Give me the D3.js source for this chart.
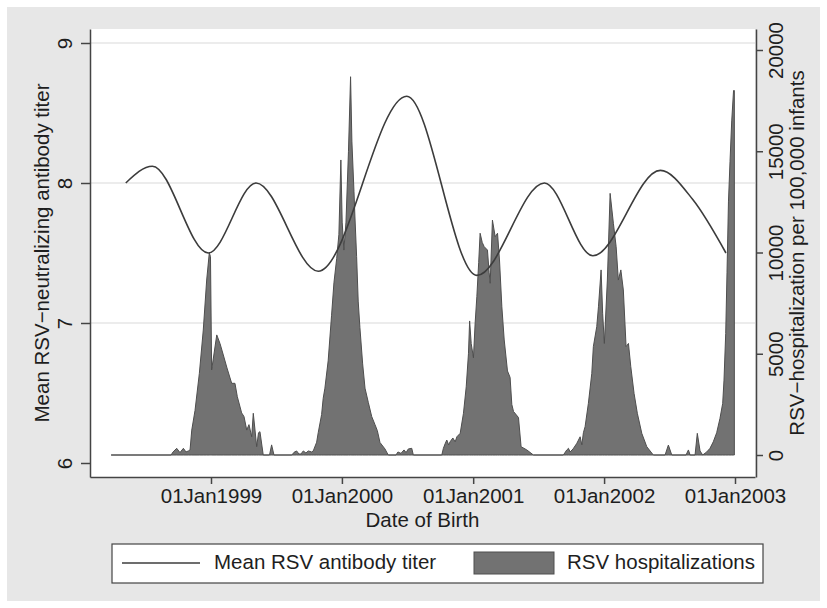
<!DOCTYPE html>
<html>
<head>
<meta charset="utf-8">
<script src="https://cdn.jsdelivr.net/npm/d3@7"></script>
<style>
  body { margin: 0; background: #ffffff; }
  svg text { font-family: "Liberation Sans", Arial, Helvetica, sans-serif; fill: #1e1e1e; }
</style>
</head>
<body>
<div class="chart"></div>
<script>
// Mean antibody titer (smooth curve), dates as decimal years
const titerYear  = [1998.349, 1998.552, 1998.979, 1999.344, 1999.819, 2000.494, 2001.028, 2001.544, 2001.914, 2002.430, 2002.679, 2002.931];
const titerValue = [8.00, 8.12, 7.50, 8.00, 7.37, 8.62, 7.34, 8.00, 7.48, 8.09, 7.88, 7.50];

// RSV hospitalizations per 100,000 infants, dates as decimal years
const hospYear = [
  1998.237, 1998.695, 1998.710, 1998.738, 1998.763, 1998.789, 1998.809, 1998.827, 1998.840, 1998.853,
  1998.878, 1998.911, 1998.941, 1998.967, 1998.987, 1998.996, 1999.005, 1999.044, 1999.069, 1999.094,
  1999.122, 1999.158, 1999.183, 1999.201, 1999.234, 1999.252, 1999.273, 1999.290, 1999.311, 1999.323,
  1999.349, 1999.363, 1999.374, 1999.399, 1999.447, 1999.463, 1999.481,
  1999.618, 1999.634, 1999.654, 1999.672, 1999.687, 1999.705, 1999.725, 1999.743, 1999.769, 1999.781,
  1999.807, 1999.819, 1999.845, 1999.857, 1999.870, 1999.895, 1999.921, 1999.939, 1999.960, 1999.977,
  1999.992, 2000.002, 2000.015, 2000.031, 2000.050, 2000.066, 2000.076, 2000.092, 2000.099, 2000.112,
  2000.124, 2000.137, 2000.158, 2000.176, 2000.201, 2000.227, 2000.252, 2000.270, 2000.290, 2000.328,
  2000.353,
  2000.412, 2000.427, 2000.450, 2000.473, 2000.489, 2000.506, 2000.532, 2000.544,
  2000.761, 2000.773, 2000.786, 2000.799, 2000.813, 2000.824, 2000.845, 2000.863, 2000.876, 2000.901,
  2000.926, 2000.947, 2000.964, 2000.973, 2000.985, 2001.002, 2001.015, 2001.028, 2001.042, 2001.053,
  2001.069, 2001.084, 2001.109, 2001.122, 2001.130, 2001.147, 2001.168, 2001.186, 2001.201, 2001.219,
  2001.237, 2001.262, 2001.282, 2001.295, 2001.308, 2001.346, 2001.366, 2001.410, 2001.460,
  2001.689, 2001.715, 2001.728, 2001.740, 2001.763, 2001.792, 2001.817, 2001.830, 2001.842, 2001.855,
  2001.880, 2001.906, 2001.918, 2001.944, 2001.957, 2001.977, 2001.989, 2002.002, 2002.025, 2002.046,
  2002.071, 2002.092, 2002.109, 2002.128, 2002.147, 2002.168, 2002.186, 2002.204, 2002.229, 2002.254,
  2002.288, 2002.326, 2002.376, 2002.466, 2002.491, 2002.517,
  2002.626, 2002.644, 2002.657, 2002.695, 2002.712, 2002.733, 2002.753, 2002.784, 2002.809, 2002.834,
  2002.860, 2002.885, 2002.906, 2002.916, 2002.929, 2002.939, 2002.950, 2002.962, 2002.975, 2002.989,
  2002.995
];
const hospRate = [
  0, 0, 150, 330, 120, 330, 150, 200, 250, 1230,
  2200, 4030, 6170, 8640, 9980, 9800, 4200, 5930, 5500, 4940,
  4300, 3540, 3540, 2880, 2080, 1900, 1230, 1500, 900, 2060,
  410, 1100, 1150, 0, 0, 500, 0,
  0, 130, 200, 50, 50, 200, 100, 200, 150, 200,
  630, 1100, 2000, 2800, 3300, 4650, 6900, 8500, 9700, 10900,
  14570, 11500, 10120, 11500, 15000, 18680, 15500, 13000, 11800, 9800,
  7600, 6300, 4500, 3300, 2600, 1900, 1500, 1200, 620, 300,
  0,
  0, 150, 80, 250, 120, 300, 330, 0,
  0, 330, 550, 740, 500, 650, 840, 650, 900, 1070,
  2060, 3370, 5000, 6620, 5500, 4800, 6520, 7820, 9500, 10950,
  10500, 10290, 10120, 9000, 8480, 11600, 10780, 10950, 9630, 7320,
  5680, 4150, 3830, 2500, 2150, 1850, 410, 250, 0,
  0, 250, 330, 150, 300, 580, 900, 500, 1100, 1400,
  2550, 4030, 5350, 6340, 7320, 9140, 7000, 5510, 8640, 12920,
  11440, 10290, 8640, 9140, 8150, 5350, 5510, 4360, 3040, 2060,
  1070, 410, 0, 0, 490, 0,
  0, 250, 0, 0, 1070, 200, 0, 150, 330, 650,
  1100, 1800, 2550, 3700, 6000, 9000, 12500, 14500, 16500, 18000,
  18000
];

const xTickYears  = [1999, 2000, 2001, 2002, 2003];
const yLeftTicks  = [6, 7, 8, 9];
const yRightTicks = [0, 5000, 10000, 15000, 20000];
const legendLabels = ["Mean RSV antibody titer", "RSV hospitalizations"];

function yearToDate(y) {
  const yr = Math.floor(y);
  const start = new Date(yr, 0, 1), end = new Date(yr + 1, 0, 1);
  return new Date(+start + (y - yr) * (end - start));
}

const W = 827, H = 608;
const plot = { left: 90, right: 755, top: 29, bottom: 477 };
const FONT = 20.5;

const svg = d3.select(".chart").append("svg")
  .attr("width", W).attr("height", H);

// graph region
svg.append("rect").attr("x", 7).attr("y", 7).attr("width", 813).attr("height", 594)
  .attr("fill", "#e7e7e7");
svg.append("rect").attr("x", plot.left).attr("y", plot.top)
  .attr("width", plot.right - plot.left).attr("height", plot.bottom - plot.top)
  .attr("fill", "#ffffff");

// scales: set by the tick positions, then widened to the plot box
const x = d3.scaleTime()
  .domain([new Date(1999, 0, 1), new Date(2003, 0, 1)])
  .range([211, 735]);
x.domain([x.invert(plot.left), x.invert(plot.right)]).range([plot.left, plot.right]);

const yL = d3.scaleLinear().domain([6, 9]).range([463, 43]);
yL.domain([yL.invert(plot.bottom), yL.invert(plot.top)]).range([plot.bottom, plot.top]);

const yR = d3.scaleLinear().domain([0, 20000]).range([455, 50]);
yR.domain([yR.invert(plot.bottom), yR.invert(plot.top)]).range([plot.bottom, plot.top]);

// grid lines
svg.append("g").selectAll("line")
  .data(yLeftTicks.filter(d => d > 6))
  .enter().append("line")
  .attr("x1", plot.left + 1).attr("x2", plot.right)
  .attr("y1", d => yL(d)).attr("y2", d => yL(d))
  .attr("stroke", "#e6e6e6").attr("stroke-width", 1.5);

// hospitalization area
const hosp = hospYear.map((y, i) => ({ date: yearToDate(y), v: hospRate[i] }));
const area = d3.area()
  .x(d => x(d.date))
  .y0(yR(0))
  .y1(d => yR(d.v));
svg.append("path")
  .datum(hosp)
  .attr("d", area)
  .attr("fill", "#727272")
  .attr("stroke", "#4e4e4e")
  .attr("stroke-width", 1)
  .attr("stroke-linejoin", "round");

// titer line
const titer = titerYear.map((y, i) => ({ date: yearToDate(y), v: titerValue[i] }));
const line = d3.line()
  .x(d => x(d.date))
  .y(d => yL(d.v))
  .curve(d3.curveMonotoneX);
svg.append("path")
  .datum(titer)
  .attr("d", line)
  .attr("fill", "none")
  .attr("stroke", "#3c3c3c")
  .attr("stroke-width", 1.6);

// axes
const axisColor = "#444";

const gx = svg.append("g").attr("transform", `translate(0,${plot.bottom})`)
  .call(d3.axisBottom(x)
    .tickValues(xTickYears.map(y => new Date(y, 0, 1)))
    .tickFormat(d3.timeFormat("%d%b%Y"))
    .tickSize(7).tickSizeOuter(0).tickPadding(6));

const gl = svg.append("g").attr("transform", `translate(${plot.left},0)`)
  .call(d3.axisLeft(yL).tickValues(yLeftTicks).tickFormat(d3.format("d"))
    .tickSize(9).tickSizeOuter(0));

const gr = svg.append("g").attr("transform", `translate(${plot.right + 1},0)`)
  .call(d3.axisRight(yR).tickValues(yRightTicks).tickFormat(d3.format("d"))
    .tickSize(7).tickSizeOuter(0));

[gx, gl, gr].forEach(g => {
  g.selectAll("path.domain").attr("stroke", axisColor).attr("stroke-width", 1.5);
  g.selectAll(".tick line").attr("stroke", axisColor).attr("stroke-width", 1.5);
  g.selectAll("text").attr("font-size", FONT).attr("fill", "#1e1e1e")
    .style("font-family", '"Liberation Sans", Arial, sans-serif');
});

gx.selectAll(".tick text").attr("dy", null).attr("y", 26);

// rotated y tick labels
gl.selectAll(".tick text")
  .attr("x", null).attr("dy", null)
  .attr("text-anchor", "middle")
  .attr("transform", "translate(-18,0) rotate(-90)");

gr.selectAll(".tick text")
  .attr("x", null).attr("dy", null)
  .attr("text-anchor", "middle")
  .attr("transform", "translate(27,0) rotate(-90)");

// axis titles
const midY = (plot.top + plot.bottom) / 2;
svg.append("text")
  .attr("text-anchor", "middle").attr("font-size", FONT)
  .attr("transform", `translate(49,${midY}) rotate(-90)`)
  .text("Mean RSV\u2212neutralizing antibody titer");

svg.append("text")
  .attr("text-anchor", "middle").attr("font-size", FONT)
  .attr("transform", `translate(804,${midY}) rotate(-90)`)
  .text("RSV\u2212hospitalization per 100,000 infants");

svg.append("text")
  .attr("text-anchor", "middle").attr("font-size", FONT)
  .attr("x", (plot.left + plot.right) / 2).attr("y", 527)
  .text("Date of Birth");

// legend
const legend = svg.append("g");
legend.append("rect")
  .attr("x", 112).attr("y", 544).attr("width", 651).attr("height", 39)
  .attr("fill", "#ffffff").attr("stroke", "#444").attr("stroke-width", 1.2);
legend.append("line")
  .attr("x1", 122).attr("x2", 200).attr("y1", 563).attr("y2", 563)
  .attr("stroke", "#3c3c3c").attr("stroke-width", 1.6);
legend.append("text")
  .attr("x", 214).attr("y", 569).attr("font-size", FONT)
  .text(legendLabels[0]);
legend.append("rect")
  .attr("x", 474).attr("y", 552).attr("width", 80).attr("height", 22)
  .attr("fill", "#727272").attr("stroke", "#4e4e4e").attr("stroke-width", 1);
legend.append("text")
  .attr("x", 567).attr("y", 569).attr("font-size", FONT)
  .text(legendLabels[1]);
</script>
</body>
</html>
